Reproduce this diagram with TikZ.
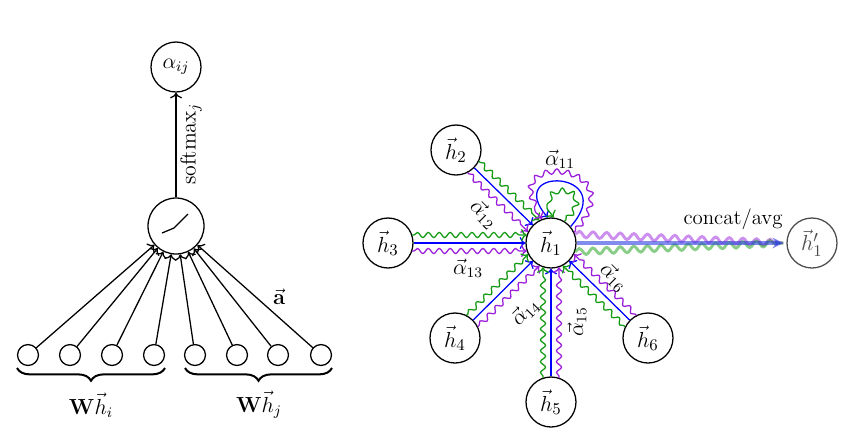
\documentclass[tikz,border=0pt]{standalone}
\usetikzlibrary{calc,decorations.pathmorphing,decorations.pathreplacing,arrows.meta}
\definecolor{gpurple}{HTML}{9B1FDB}
\definecolor{ggreen}{HTML}{149B14}
\definecolor{outblue}{HTML}{2E3FE0}
\begin{document}
\begin{tikzpicture}[x=0.55pt,y=-0.55pt,line width=0.7pt,
  font=\fontsize{11.5}{13}\selectfont,
  unit/.style={circle,draw,minimum size=27.5pt,inner sep=0pt},
  hunit/.style={unit,font=\fontsize{13}{15}\selectfont},
  actunit/.style={circle,draw,minimum size=30.8pt,inner sep=0pt},
  small/.style={circle,draw,minimum size=11.5pt,inner sep=0pt},
  snk/.style={->,decorate,decoration={snake,amplitude=1.4pt,segment length=6pt,pre length=1pt,post length=3pt}},
  bigsnk/.style={line width=1.6pt,opacity=.5,decorate,decoration={snake,amplitude=1.7pt,segment length=7.5pt,post length=2pt}},
  bracestyle/.style={decorate,decoration={brace,mirror,amplitude=7pt},line width=1.1pt},
  lbl/.style={inner sep=1pt}
]
\useasboundingbox (0,0) rectangle (844,436);

% ---------------- left part ----------------
\node[unit] (aij) at (176,67) {$\alpha_{ij}$};
\node[actunit] (act) at (176,226) {};
\draw ([shift={(-14,7)}]act.center) -- ([shift={(-2,2)}]act.center) -- ([shift={(12,-12)}]act.center);
\draw[->] (act) -- (aij);
\node[lbl,rotate=90] (smx) at (191,144) {$\mathrm{softmax}_j$};

\foreach \i/\x in {1/28,2/70,3/112,4/154,5/195,6/237,7/278,8/321}{
  \node[small] (c\i) at (\x,355) {};
  \draw[->] (c\i) -- (act);
}
\node[lbl] (avec) at (279,297) {$\vec{\mathbf{a}}$};

\draw[bracestyle] (17,368) -- (165,368);
\draw[bracestyle] (185,368) -- (332,368);
\node[lbl] (wi) at (91,405) {$\mathbf{W}\vec{h}_i$};
\node[lbl] (wj) at (259,405) {$\mathbf{W}\vec{h}_j$};

% ---------------- right part ----------------
\node[hunit] (h1) at (551,243) {$\vec{h}_1$};
\node[hunit] (h2) at (456,150) {$\vec{h}_2$};
\node[hunit] (h3) at (388,243) {$\vec{h}_3$};
\node[hunit] (h4) at (455,338) {$\vec{h}_4$};
\node[hunit] (h5) at (551,402) {$\vec{h}_5$};
\node[hunit] (h6) at (648,338) {$\vec{h}_6$};
\node[hunit,draw=black!70,text=black!70] (h1p) at (812,243) {$\vec{h}'_1$};

\foreach \n in {2,...,6}{
  \coordinate (gs\n) at ($(h\n)!4.4pt!90:(h1)$);
  \coordinate (ge\n) at ($(h1)!4.4pt!-90:(h\n)$);
  \coordinate (ps\n) at ($(h\n)!4.4pt!-90:(h1)$);
  \coordinate (pe\n) at ($(h1)!4.4pt!90:(h\n)$);
  \draw[blue,->] (h\n) -- (h1);
  \draw[ggreen,snk] ($(gs\n)!13.3pt!(ge\n)$) -- ($(ge\n)!13.3pt!(gs\n)$);
  \draw[gpurple,snk] ($(ps\n)!13.3pt!(pe\n)$) -- ($(pe\n)!13.3pt!(ps\n)$);
}

% self loops
\draw[blue,->] (h1.40) .. controls +(50,-56) and +(-46,-53) .. (h1.97);
\draw[ggreen,snk] (h1.58) .. controls +(36,-36) and +(-28,-35) .. (h1.84);
\draw[gpurple,snk] (h1.25) .. controls +(62,-72) and +(-58,-66) .. (h1.110);

% labels
\node[lbl] (a11) at (560,159) {$\vec{\alpha}_{11}$};
\node[lbl,rotate=-45] (a12) at (484,214) {$\vec{\alpha}_{12}$};
\node[lbl] (a13) at (468,268) {$\vec{\alpha}_{13}$};
\node[lbl,rotate=45] (a14) at (525,312) {$\vec{\alpha}_{14}$};
\node[lbl,rotate=90] (a15) at (577,322) {$\vec{\alpha}_{15}$};
\node[lbl,rotate=-45] (a16) at (614,277) {$\vec{\alpha}_{16}$};

% output
\coordinate (tip) at ($(h1p.west)+(-3,0)$);
\draw[gpurple,bigsnk] (h1.20) -- (tip);
\draw[ggreen,bigsnk] (h1.-20) -- (tip);
\draw[outblue,line width=1.7pt,opacity=.6,-{Stealth[length=6pt,width=6pt]}] (h1) -- (tip);
\node[lbl] (cat) at (733,219) {concat/avg};
\end{tikzpicture}
\end{document}
